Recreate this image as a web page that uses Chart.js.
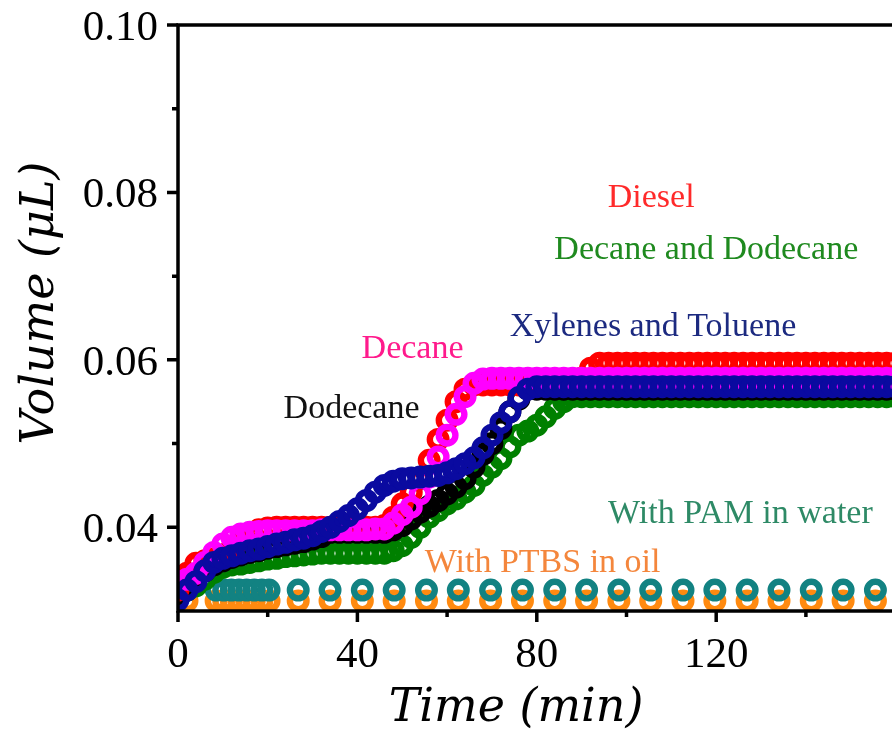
<!DOCTYPE html>
<html>
<head>
<meta charset="utf-8">
<script src="https://cdn.jsdelivr.net/npm/chart.js@4.4.1/dist/chart.umd.min.js"></script>
<style>
  html, body { margin: 0; padding: 0; background: #fff; overflow: hidden; }
  #wrap { width: 892px; height: 730px; overflow: hidden; }
  canvas { display: block; }
</style>
</head>
<body>
<div id="wrap"><canvas id="chart" width="1000" height="730"></canvas></div>
<script>
// ─── DATA ─────────────────────────────────────────────────────────────────────
// time (min), one reading every 2 min for the oil series
const TIME = [
  0, 2, 4, 6, 8, 10, 12, 14, 16, 18, 20, 22, 24, 26, 28, 30, 32, 34, 36, 38,
  40, 42, 44, 46, 48, 50, 52, 54, 56, 58, 60, 62, 64, 66, 68, 70, 72, 74, 76, 78,
  80, 82, 84, 86, 88, 90, 92, 94, 96, 98, 100, 102, 104, 106, 108, 110, 112, 114, 116, 118,
  120, 122, 124, 126, 128, 130, 132, 134, 136, 138, 140, 142, 144, 146, 148, 150, 152, 154, 156, 158,
  160,
];

// volume (µL)
const XYLENES = [
  0.0313, 0.0325, 0.0335, 0.0348, 0.0358, 0.0363, 0.0366, 0.0369, 0.0372, 0.0374,
  0.0377, 0.0380, 0.0382, 0.0385, 0.0387, 0.0390, 0.0395, 0.0400, 0.0407, 0.0414,
  0.0422, 0.0432, 0.0442, 0.0450, 0.0455, 0.0458, 0.0459, 0.0460, 0.0461, 0.0462,
  0.0465, 0.0470, 0.0476, 0.0483, 0.0495, 0.0510, 0.0525, 0.0538, 0.0555, 0.0565,
  0.0568, 0.0568, 0.0568, 0.0568, 0.0568, 0.0568, 0.0568, 0.0568, 0.0568, 0.0568,
  0.0568, 0.0568, 0.0568, 0.0568, 0.0568, 0.0568, 0.0568, 0.0568, 0.0568, 0.0568,
  0.0568, 0.0568, 0.0568, 0.0568, 0.0568, 0.0568, 0.0568, 0.0568, 0.0568, 0.0568,
  0.0568, 0.0568, 0.0568, 0.0568, 0.0568, 0.0568, 0.0568, 0.0568, 0.0568, 0.0568,
  0.0568,
];

const DECANE = [
  0.0335, 0.0338, 0.0345, 0.0358, 0.0370, 0.0380, 0.0388, 0.0392, 0.0394, 0.0395,
  0.0396, 0.0396, 0.0396, 0.0396, 0.0396, 0.0396, 0.0397, 0.0397, 0.0397, 0.0397,
  0.0397, 0.0397, 0.0398, 0.0398, 0.0405, 0.0415, 0.0424, 0.0440, 0.0460, 0.0484,
  0.0510, 0.0535, 0.0556, 0.0572, 0.0577, 0.0578, 0.0578, 0.0578, 0.0578, 0.0578,
  0.0578, 0.0578, 0.0578, 0.0578, 0.0578, 0.0578, 0.0578, 0.0578, 0.0578, 0.0578,
  0.0578, 0.0578, 0.0578, 0.0578, 0.0578, 0.0578, 0.0578, 0.0578, 0.0578, 0.0578,
  0.0578, 0.0578, 0.0578, 0.0578, 0.0578, 0.0578, 0.0578, 0.0578, 0.0578, 0.0578,
  0.0578, 0.0578, 0.0578, 0.0578, 0.0578, 0.0578, 0.0578, 0.0578, 0.0578, 0.0578,
  0.0578,
];

const DIESEL = [
  0.0325, 0.0345, 0.0357, 0.0360, 0.0362, 0.0366, 0.0375, 0.0385, 0.0392, 0.0397,
  0.0399, 0.0400, 0.0400, 0.0400, 0.0400, 0.0400, 0.0400, 0.0400, 0.0400, 0.0400,
  0.0400, 0.0400, 0.0400, 0.0402, 0.0412, 0.0428, 0.0442, 0.0458, 0.0480, 0.0505,
  0.0528, 0.0550, 0.0565, 0.0570, 0.0570, 0.0570, 0.0570, 0.0570, 0.0570, 0.0570,
  0.0570, 0.0570, 0.0570, 0.0570, 0.0570, 0.0578, 0.0590, 0.0596, 0.0596, 0.0596,
  0.0596, 0.0596, 0.0596, 0.0596, 0.0596, 0.0596, 0.0596, 0.0596, 0.0596, 0.0596,
  0.0596, 0.0596, 0.0596, 0.0596, 0.0596, 0.0596, 0.0596, 0.0596, 0.0596, 0.0596,
  0.0596, 0.0596, 0.0596, 0.0596, 0.0596, 0.0596, 0.0596, 0.0596, 0.0596, 0.0596,
  0.0596,
];

const DODECANE = [
  0.0320, 0.0328, 0.0338, 0.0348, 0.0355, 0.0360, 0.0364, 0.0367, 0.0370, 0.0372,
  0.0375, 0.0377, 0.0379, 0.0381, 0.0383, 0.0386, 0.0389, 0.0394, 0.0394, 0.0394,
  0.0394, 0.0394, 0.0394, 0.0394, 0.0397, 0.0402, 0.0410, 0.0418, 0.0425, 0.0432,
  0.0440, 0.0448, 0.0458, 0.0472, 0.0487, 0.0500, 0.0518, 0.0538, 0.0553, 0.0565,
  0.0565, 0.0565, 0.0565, 0.0565, 0.0565, 0.0565, 0.0565, 0.0565, 0.0565, 0.0565,
  0.0565, 0.0565, 0.0565, 0.0565, 0.0565, 0.0565, 0.0565, 0.0565, 0.0565, 0.0565,
  0.0565, 0.0565, 0.0565, 0.0565, 0.0565, 0.0565, 0.0565, 0.0565, 0.0565, 0.0565,
  0.0565, 0.0565, 0.0565, 0.0565, 0.0565, 0.0565, 0.0565, 0.0565, 0.0565, 0.0565,
  0.0565,
];

const DEC_DODEC = [
  0.0322, 0.0325, 0.0330, 0.0338, 0.0346, 0.0352, 0.0355, 0.0356, 0.0358, 0.0360,
  0.0362, 0.0363, 0.0365, 0.0366, 0.0367, 0.0368, 0.0369, 0.0369, 0.0369, 0.0369,
  0.0369, 0.0369, 0.0369, 0.0369, 0.0372, 0.0378, 0.0388, 0.0400, 0.0412, 0.0420,
  0.0428, 0.0434, 0.0442, 0.0450, 0.0462, 0.0472, 0.0482, 0.0496, 0.0510, 0.0515,
  0.0522, 0.0532, 0.0542, 0.0550, 0.0556, 0.0556, 0.0556, 0.0556, 0.0556, 0.0556,
  0.0556, 0.0556, 0.0556, 0.0556, 0.0556, 0.0556, 0.0556, 0.0556, 0.0556, 0.0556,
  0.0556, 0.0556, 0.0556, 0.0556, 0.0556, 0.0556, 0.0556, 0.0556, 0.0556, 0.0556,
  0.0556, 0.0556, 0.0556, 0.0556, 0.0556, 0.0556, 0.0556, 0.0556, 0.0556, 0.0556,
  0.0556,
];

// surfactant runs are sampled on their own clock
const SURF_TIME = [
  2, 8.5, 10.2, 11.9, 13.6, 15.3, 17, 18.7, 20.3, 26.8, 33.9, 41.1, 48.2, 55.4,
  62.5, 69.7, 76.8, 84, 91.1, 98.3, 105.4, 112.6, 119.7, 126.9, 134, 141.2, 148.3, 155.5,
];
const PAM_WATER = [
  0.0325, 0.0325, 0.0325, 0.0325, 0.0325, 0.0325, 0.0325, 0.0325, 0.0325, 0.0325,
  0.0325, 0.0325, 0.0325, 0.0325, 0.0325, 0.0325, 0.0325, 0.0325, 0.0325, 0.0325,
  0.0325, 0.0325, 0.0325, 0.0325, 0.0325, 0.0325, 0.0325, 0.0325,
];
const PTBS_OIL = [
  0.0312, 0.0312, 0.0312, 0.0312, 0.0312, 0.0312, 0.0312, 0.0312, 0.0312, 0.0312,
  0.0312, 0.0312, 0.0312, 0.0312, 0.0312, 0.0312, 0.0312, 0.0312, 0.0312, 0.0312,
  0.0312, 0.0312, 0.0312, 0.0312, 0.0312, 0.0312, 0.0312, 0.0312,
];

// axis ticks
const X_MAJOR = [0, 40, 80, 120];
const X_MINOR = [20, 60, 100, 140];
const Y_MAJOR = [0.04, 0.06, 0.08, 0.10];
const Y_MINOR = [0.05, 0.07, 0.09];

// in-plot labels
const NOTE_TEXT = ['Diesel', 'Decane and Dodecane', 'Xylenes and Toluene', 'Decane',
                   'Dodecane', 'With PAM in water', 'With PTBS in oil'];

// ─── STYLE ────────────────────────────────────────────────────────────────────
const NOTE_POS = [   // data coords of text centre / baseline
  [105.5, 0.0783], [117.8, 0.0720], [105.9, 0.0628], [52.3, 0.0602],
  [38.7, 0.0531], [125.4, 0.0405], [81.3, 0.0346],
];
const NOTE_COLOR = ['#ff2a2a', '#1f8a1f', '#1c2a80', '#ff1a8c', '#111111', '#2e8a66', '#f4863c'];

const SERIF = '"Liberation Serif", "Times New Roman", serif';
const MATH  = '"DejaVu Serif", serif';

function series(xs, ys, color) {
  return {
    data: xs.map((x, i) => ({ x, y: ys[i] })),
    borderColor: color,
    pointBorderColor: color,
    pointBackgroundColor: 'rgba(0,0,0,0)',
    pointRadius: 8.3, pointHoverRadius: 8.3,
    pointBorderWidth: 6.4,
    showLine: false,
  };
}

// ─── FRAME / TEXT ─────────────────────────────────────────────────────────────
const framePlugin = {
  id: 'frame',
  afterDatasetsDraw(chart) {
    const { ctx, chartArea: a, scales: { x, y } } = chart;
    ctx.save();
    ctx.strokeStyle = '#000';
    ctx.lineWidth = 3.5;
    ctx.strokeRect(a.left, a.top, a.right - a.left, a.bottom - a.top);

    ctx.beginPath();
    for (const v of Y_MAJOR) { const p = y.getPixelForValue(v); ctx.moveTo(a.left - 11, p); ctx.lineTo(a.left, p); }
    for (const v of Y_MINOR) { const p = y.getPixelForValue(v); ctx.moveTo(a.left - 6, p);  ctx.lineTo(a.left, p); }
    for (const v of X_MAJOR) { const p = x.getPixelForValue(v); ctx.moveTo(p, a.bottom); ctx.lineTo(p, a.bottom + 11); }
    for (const v of X_MINOR) { const p = x.getPixelForValue(v); ctx.moveTo(p, a.bottom); ctx.lineTo(p, a.bottom + 6); }
    ctx.stroke();

    ctx.fillStyle = '#000';
    ctx.font = `43px ${SERIF}`;
    ctx.textAlign = 'right';
    ctx.textBaseline = 'alphabetic';
    for (const v of Y_MAJOR) ctx.fillText(v.toFixed(2), a.left - 20, y.getPixelForValue(v) + 15);
    ctx.textAlign = 'center';
    for (const v of X_MAJOR) ctx.fillText(String(v), x.getPixelForValue(v), a.bottom + 56);

    // axis titles
    ctx.font = `italic 46px ${MATH}`;
    ctx.fillText('Time (min)', 516, 721);
    ctx.save();
    ctx.translate(53, (a.top + a.bottom) / 2 - 15);
    ctx.rotate(-Math.PI / 2);
    ctx.fillText('Volume (\u03bcL)', 0, 0);
    ctx.restore();

    // labels
    ctx.font = `34px ${SERIF}`;
    NOTE_TEXT.forEach((t, i) => {
      ctx.fillStyle = NOTE_COLOR[i];
      ctx.fillText(t, x.getPixelForValue(NOTE_POS[i][0]), y.getPixelForValue(NOTE_POS[i][1]));
    });
    ctx.restore();
  },
};

// ─── CHART ────────────────────────────────────────────────────────────────────
new Chart(document.getElementById('chart'), {
  type: 'scatter',
  data: {
    datasets: [   // first one ends up on top
      series(TIME, XYLENES,   '#0a0aa0'),
      series(TIME, DECANE,    '#ff00ff'),
      series(TIME, DIESEL,    '#ff0000'),
      series(TIME, DODECANE,  '#000000'),
      series(TIME, DEC_DODEC, '#008000'),
      series(SURF_TIME, PAM_WATER, '#128282'),
      series(SURF_TIME, PTBS_OIL,  '#ff8a10'),
    ],
  },
  options: {
    responsive: false,
    animation: false,
    events: [],
    layout: { padding: { left: 0, top: 25, right: 10.5, bottom: 0 } },
    plugins: { legend: { display: false }, tooltip: { enabled: false } },
    scales: {
      x: {
        type: 'linear', min: 0, max: 180,
        grid: { display: false }, border: { display: false },
        ticks: { display: false },
        afterFit: s => { s.height = 119; },
      },
      y: {
        type: 'linear', min: 0.03, max: 0.10,
        grid: { display: false }, border: { display: false },
        ticks: { display: false },
        afterFit: s => { s.width = 178; },
      },
    },
  },
  plugins: [framePlugin],
});
</script>
</body>
</html>
